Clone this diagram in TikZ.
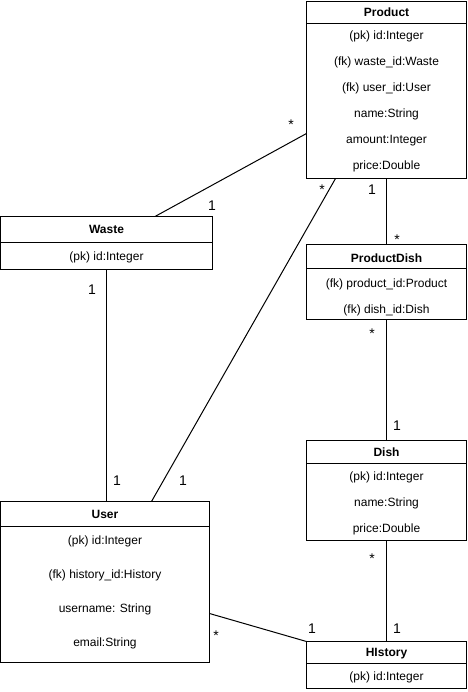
\documentclass[tikz,border=0pt]{standalone}
\usepackage{fontspec}
\setmainfont{Liberation Sans}
\usetikzlibrary{calc}
\begin{document}
\begin{tikzpicture}[x=1pt,y=-1pt,
  every node/.style={inner sep=0pt,outer sep=0pt},
  classbox/.style={draw=black,line width=1pt,fill=white,rectangle,anchor=north west},
  field/.style={font=\fontsize{12}{14}\selectfont,anchor=base},
  classname/.style={font=\fontsize{12}{14}\selectfont\bfseries,anchor=base},
  mult/.style={font=\fontsize{14}{16}\selectfont,anchor=base},
  sep/.style={draw=black,line width=1pt},
  link/.style={draw=black,line width=1pt}]
\useasboundingbox (0,0) rectangle (467,692);

% ---- class boxes ----
\node[classbox,minimum width=160pt,minimum height=177pt] (product) at (306.5,1.5) {};
\node[classbox,minimum width=212pt,minimum height=53pt]  (waste)   at (0.5,216.5) {};
\node[classbox,minimum width=160pt,minimum height=75pt]  (pdish)   at (306.5,244.5) {};
\node[classbox,minimum width=160pt,minimum height=100pt] (dish)    at (306.5,440.5) {};
\node[classbox,minimum width=209pt,minimum height=161pt] (user)    at (0.5,501.5) {};
\node[classbox,minimum width=160pt,minimum height=47pt]  (history) at (306.5,641.5) {};

% ---- header separators ----
\draw[sep] ($(product.north west)+(0,22)$) -- ($(product.north east)+(0,22)$);
\draw[sep] ($(waste.north west)+(0,26)$)   -- ($(waste.north east)+(0,26)$);
\draw[sep] ($(pdish.north west)+(0,24)$)   -- ($(pdish.north east)+(0,24)$);
\draw[sep] ($(dish.north west)+(0,23)$)    -- ($(dish.north east)+(0,23)$);
\draw[sep] ($(user.north west)+(0,25)$)    -- ($(user.north east)+(0,25)$);
\draw[sep] ($(history.north west)+(0,22)$) -- ($(history.north east)+(0,22)$);

% ---- Product ----
\node[classname] (product-t) at (386.5,16.6) {Product};
\node[field] (product-a1) at (386.5,39.5)  {(pk) id:Integer};
\node[field] (product-a2) at (386.5,65.5)  {(fk) waste\_id:Waste};
\node[field] (product-a3) at (386.5,91.5)  {(fk) user\_id:User};
\node[field] (product-a4) at (386.5,117.5) {name:String};
\node[field] (product-a5) at (386.5,143.5) {amount:Integer};
\node[field] (product-a6) at (386.5,169.5) {price:Double};

% ---- Waste ----
\node[classname] (waste-t) at (106.5,233.3) {Waste};
\node[field] (waste-a1) at (106.5,260) {(pk) id:Integer};

% ---- ProductDish ----
\node[classname] (pdish-t) at (386.5,262.3) {ProductDish};
\node[field] (pdish-a1) at (386.5,287) {(fk) product\_id:Product};
\node[field] (pdish-a2) at (386.5,313) {(fk) dish\_id:Dish};

% ---- Dish ----
\node[classname] (dish-t) at (386.5,456.3) {Dish};
\node[field] (dish-a1) at (386.5,480) {(pk) id:Integer};
\node[field] (dish-a2) at (386.5,506) {name:String};
\node[field] (dish-a3) at (386.5,532) {price:Double};

% ---- User ----
\node[classname] (user-t) at (105,518.3) {User};
\node[field] (user-a1) at (105,544) {(pk) id:Integer};
\node[field] (user-a2) at (105,578) {(fk) history\_id:History};
\node[field] (user-a3) at (105,612) {username: String};
\node[field] (user-a4) at (105,646) {email:String};

% ---- History ----
\node[classname] (history-t) at (386.5,656.3) {HIstory};
\node[field] (history-a1) at (386.5,680) {(pk) id:Integer};

% ---- associations ----
\draw[link] (product.south) -- (pdish.north);
\draw[link] (pdish.south) -- (dish.north);
\draw[link] (dish.south) -- (history.north);
\draw[link] ($(user.north east)+(0,112)$) -- (history.north west);
\draw[link] ($(waste.north west)+(154.5,0)$) -- ($(product.north west)+(0,132)$);
\draw[link] (waste.south) -- (waste.south |- user.north);
\draw[link] ($(user.north west)+(151,0)$) -- ($(product.south west)+(29,0)$);

% ---- multiplicities ----
\node[mult] (m-p-pd)   at (372,195) {1};
\node[mult] (m-pd-p)   at (397,245) {*};
\node[mult] (m-pd-d)   at (372,338) {*};
\node[mult] (m-d-pd)   at (397,430) {1};
\node[mult] (m-d-h)    at (372,563) {*};
\node[mult] (m-h-d)    at (397,633) {1};
\node[mult] (m-u-h)    at (216,640) {*};
\node[mult] (m-h-u)    at (312,633) {1};
\node[mult] (m-p-w)    at (291,130) {*};
\node[mult] (m-w-p)    at (212,211) {1};
\node[mult] (m-w-u)    at (92,294)  {1};
\node[mult] (m-u-w)    at (117,485) {1};
\node[mult] (m-p-u)    at (322,195) {*};
\node[mult] (m-u-p)    at (183,485) {1};
\end{tikzpicture}
\end{document}
